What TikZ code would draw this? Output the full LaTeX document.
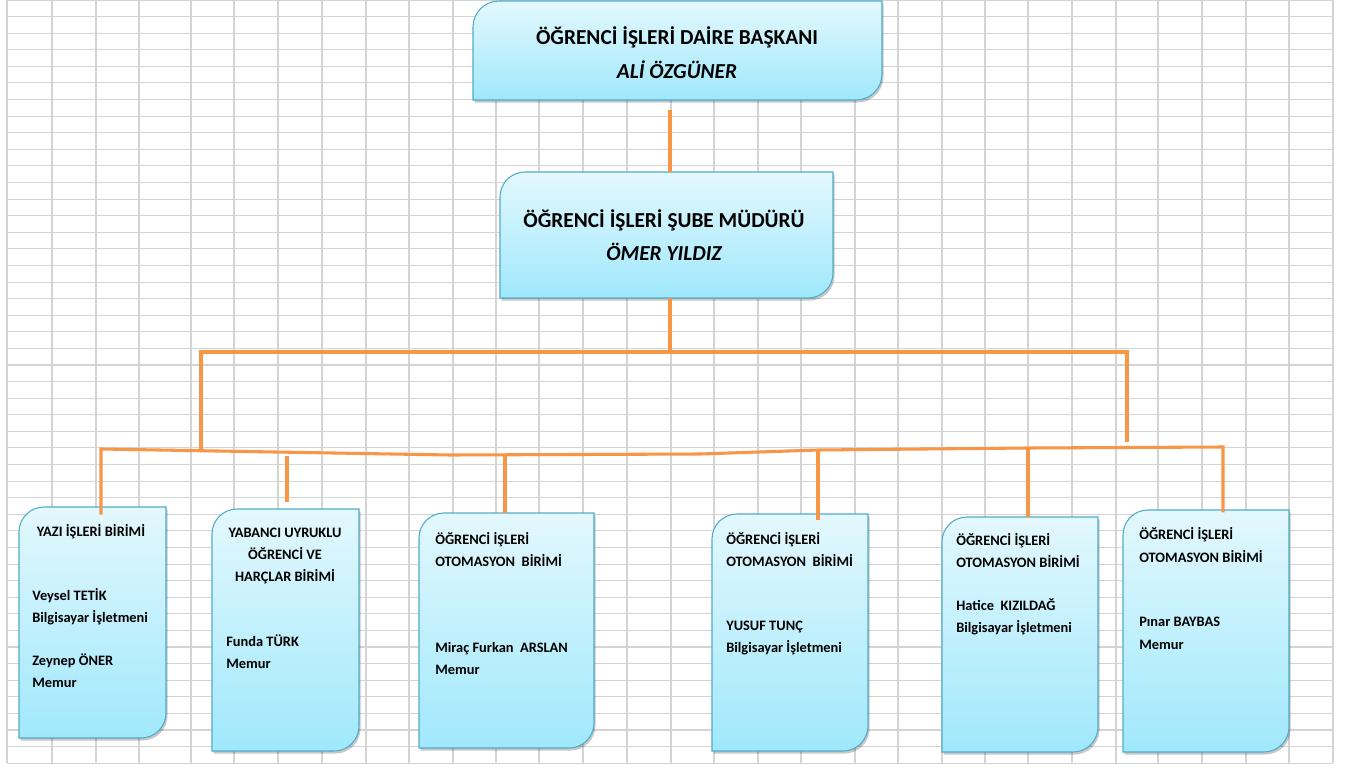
\documentclass[tikz,border=0pt]{standalone}
\usepackage{fontspec}
\setmainfont{Carlito}
\usetikzlibrary{fit,calc}
\definecolor{gridc}{RGB}{212,212,212}
\definecolor{boxtop}{RGB}{227,248,253}
\definecolor{boxbot}{RGB}{160,232,252}
\definecolor{boxline}{RGB}{80,172,200}
\definecolor{conncol}{RGB}{247,150,70}
\newcommand{\boxpath}[5]{(#1,#4) -- (#1,#2+#5) to[out=90,in=180] (#1+#5,#2) -- (#3,#2) -- (#3,#4-#5) to[out=-90,in=0] (#3-#5,#4) -- cycle}
\newcommand{\orgbox}[6]{%
  \fill[black,opacity=0.22,shift={(1.5,2.5)}] \boxpath{#2}{#3}{#4}{#5}{#6};
  \shadedraw[top color=boxtop,bottom color=boxbot,draw=boxline,line width=0.8pt] \boxpath{#2}{#3}{#4}{#5}{#6};
  \node[fit={(#2,#3) (#4,#5)},inner sep=0pt] (#1) {};
}
\tikzset{
  gridline/.style={draw=gridc,line width=0.8pt},
  conn/.style={draw=conncol,line width=2.3pt},
  bigt/.style={font=\fontsize{16}{25}\selectfont\bfseries,align=center,inner sep=0pt},
  smallt/.style={font=\fontsize{10.8}{16.3}\selectfont\bfseries,align=left,inner sep=0pt,anchor=base west},
  smallc/.style={font=\fontsize{10.8}{16.6}\selectfont\bfseries,align=center,inner sep=0pt,anchor=base},
}
\begin{document}
\begin{tikzpicture}[x=0.75pt,y=-0.75pt]
\useasboundingbox (0,0) rectangle (1351,767);
\fill[white] (0,0) rectangle (1351,767);
% spreadsheet grid
\foreach \gx in {7,52,96,139,191,234,278,322,366,409,453,496,539,583,627,671,714,758,801,855,898,942,985,1028,1072,1116,1158,1202,1246,1289,1333}
  \draw[gridline] (\gx,0) -- (\gx,763);
\foreach \k in {0,...,46}
  \draw[gridline] (7,{16.59*\k}) -- (1333,{16.59*\k});

% boxes
\orgbox{top}{473}{1}{882}{100}{26}
\orgbox{mid}{500}{172}{833}{298}{25}
\orgbox{b1}{19}{507}{166}{738}{25}
\orgbox{b2}{212}{509}{359}{751}{25}
\orgbox{b3}{419}{513}{594}{748}{25}
\orgbox{b4}{712}{514}{868}{751}{25}
\orgbox{b5}{942}{517}{1098}{752}{25}
\orgbox{b6}{1123}{510}{1289}{752}{25}

% texts
\node[bigt,anchor=base] (topt1) at (677,45) {ÖĞRENCİ İŞLERİ DAİRE BAŞKANI};
\node[bigt,anchor=base] (topt2) at (677,79) {\itshape ALİ ÖZGÜNER};
\node[bigt,anchor=base] (midt1) at (664,227) {ÖĞRENCİ İŞLERİ ŞUBE MÜDÜRÜ};
\node[bigt,anchor=base] (midt2) at (664,260) {\itshape ÖMER YILDIZ};

\node[smallc] (b1h) at (91,536.6) {YAZI İŞLERİ BİRİMİ};
\node[smallt] (b1p) at (32,622.6) {Veysel TETİK\\Bilgisayar\ İşletmeni};
\node[smallt] (b1q) at (32,687.6) {Zeynep ÖNER\\Memur};

\node[smallc] (b2h) at (285,581.6) {YABANCI UYRUKLU\\ÖĞRENCİ VE\\HARÇLAR BİRİMİ};
\node[smallt] (b2p) at (226,668.6) {Funda TÜRK\\Memur};

\node[smallt] (b3h) at (435,566.6) {ÖĞRENCİ İŞLERİ\\OTOMASYON\ \ BİRİMİ};
\node[smallt] (b3p) at (435,674.6) {Miraç Furkan\ \ ARSLAN\\Memur};

\node[smallt] (b4h) at (726,566.6) {ÖĞRENCİ İŞLERİ\\OTOMASYON\ \ BİRİMİ};
\node[smallt] (b4p) at (726,652.6) {YUSUF TUNÇ\\Bilgisayar İşletmeni};

\node[smallt] (b5h) at (956,567.6) {ÖĞRENCİ İŞLERİ\\OTOMASYON BİRİMİ};
\node[smallt] (b5p) at (956,632.6) {Hatice\ \ KIZILDAĞ\\Bilgisayar İşletmeni};

\node[smallt,font=\fontsize{10.8}{17}\selectfont\bfseries] (b6h) at (1139,562.6) {ÖĞRENCİ İŞLERİ\\OTOMASYON BİRİMİ};
\node[smallt,font=\fontsize{10.8}{17}\selectfont\bfseries] (b6p) at (1139,649.6) {Pınar BAYBAS\\Memur};

% connector points
\coordinate (t0) at (670,110);
\coordinate (m0) at (670,352);
\coordinate (ua) at (201,352);
\coordinate (ub) at (1127,352);
\coordinate (ua2) at (201,451);
\coordinate (ub2) at (1127,442);
\coordinate (j1) at (101,449);
\coordinate (s1) at (450,455);
\coordinate (s2) at (700,454);
\coordinate (j4) at (818,450);
\coordinate (j5) at (1028,448);
\coordinate (j6) at (1223,447);
\coordinate (j3) at (505,455);
\coordinate (k2a) at (287,456);
\coordinate (k2b) at (287,502);

% connectors
\draw[conn] (t0) -- (t0 |- mid.north);
\draw[conn] (t0 |- mid.south) -- (m0);
\draw[conn] (ua2) -- (ua) -- (ub) -- (ub2);
\draw[conn] ([yshift=-6pt]j1 |- b1.north) -- (j1) -- (s1) -- (s2) -- (j4) -- (j5) -- (j6) -- ([yshift=-2pt]j6 |- b6.north);
\draw[conn] (k2a) -- (k2b);
\draw[conn] (j3) -- (j3 |- b3.north);
\draw[conn] (j4) -- ([yshift=-4.5pt]j4 |- b4.north);
\draw[conn] (j5) -- (j5 |- b5.north);
\end{tikzpicture}
\end{document}
